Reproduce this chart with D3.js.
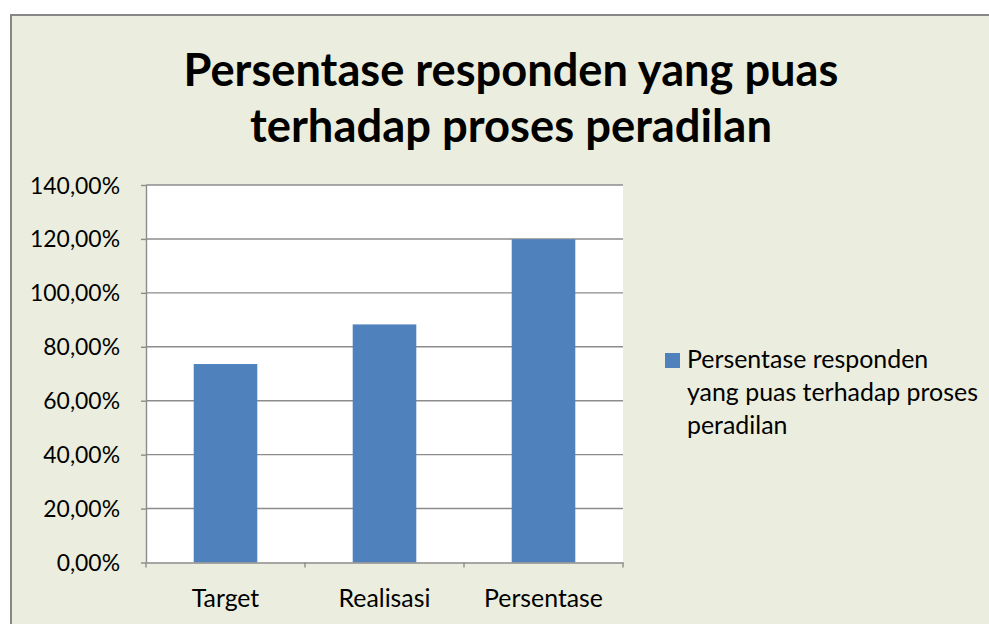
<!DOCTYPE html>
<html>
<head>
<meta charset="utf-8">
<script src="https://cdn.jsdelivr.net/npm/d3@7"></script>
<style>
  html, body { margin: 0; padding: 0; background: #ffffff; }
  svg { display: block; }
  text { font-family: Lato, "Open Sans", sans-serif; fill: #000; }
</style>
</head>
<body>
<svg id="chart" width="989" height="624"></svg>
<script>
// ---- data ----
const categories = ["Target", "Realisasi", "Persentase"];
const values = [73.6, 88.3, 119.9];
const yTicks = [0, 20, 40, 60, 80, 100, 120, 140];
const titleLines = ["Persentase responden yang puas", "terhadap proses peradilan"];
const seriesName = "Persentase responden yang puas terhadap proses peradilan";
const legendLines = ["Persentase responden", "yang puas terhadap proses", "peradilan"];

// ---- layout ----
const W = 989, H = 624;
const plot = { left: 146, right: 623, top: 185, bottom: 562.5 };
const barColor = "#4F81BD";
const gridColor = "#8C8C8C";

const svg = d3.select("#chart");

// chart area background with border
svg.append("rect").attr("x", 11).attr("y", 15).attr("width", W).attr("height", H)
  .attr("fill", "#EBEEDE").attr("stroke", "#878787").attr("stroke-width", 2);

const x = d3.scaleBand().domain(categories).range([plot.left, plot.right]).paddingInner(0.6).paddingOuter(0.3);
const xb = d3.scaleBand().domain(categories).range([plot.left, plot.right]);
const y = d3.scaleLinear().domain([0, 140]).range([plot.bottom, plot.top]);

// plot area
svg.append("rect").attr("x", plot.left).attr("y", plot.top)
  .attr("width", plot.right - plot.left).attr("height", plot.bottom - plot.top).attr("fill", "#fff");

// gridlines
svg.append("g").selectAll("line").data(yTicks.filter(d => d > 0)).join("line")
  .attr("x1", plot.left).attr("x2", plot.right)
  .attr("y1", d => y(d)).attr("y2", d => y(d))
  .attr("stroke", gridColor).attr("stroke-width", 1.4);

// bars
svg.append("g").selectAll("rect").data(values).join("rect")
  .attr("x", (d, i) => x(categories[i]))
  .attr("width", x.bandwidth())
  .attr("y", d => y(d))
  .attr("height", d => y(0) - y(d))
  .attr("fill", barColor);

function fitText(sel, targetWidth, baseSize) {
  sel.style("font-size", baseSize + "px");
  const w = sel.node().getComputedTextLength();
  sel.style("font-size", (baseSize * targetWidth / w).toFixed(2) + "px");
}

// y axis
const yAxis = d3.axisLeft(y).tickValues(yTicks).tickSize(5).tickSizeOuter(0)
  .tickFormat(d => d3.format(".2f")(d).replace(".", ",") + "%");
const gy = svg.append("g").attr("transform", `translate(${plot.left},0)`).call(yAxis);
gy.select(".domain").attr("stroke", gridColor).attr("stroke-width", 1.4);
gy.selectAll(".tick line").attr("stroke", gridColor).attr("stroke-width", 1.4);
gy.selectAll(".tick text").attr("x", -26).attr("dy", "0.35em")
  .style("font-family", "Lato, sans-serif").attr("fill", "#000");
let ySize = 20;
{
  const t = gy.selectAll(".tick text").filter(d => d === 140);
  t.style("font-size", "20px");
  ySize = 20 * 90 / t.node().getComputedTextLength();
}
gy.selectAll(".tick text").style("font-size", ySize + "px");

// x axis
const xAxis = d3.axisBottom(xb).tickSize(0).tickSizeOuter(0);
const gx = svg.append("g").attr("transform", `translate(0,${plot.bottom})`).call(xAxis);
gx.select(".domain").attr("stroke", gridColor).attr("stroke-width", 1.4);
gx.selectAll(".tick text").attr("y", 0).attr("dy", null).attr("transform", "translate(0,44)")
  .style("font-family", "Lato, sans-serif").attr("fill", "#000");
const xTickPos = [plot.left].concat(categories.map(c => xb(c) + xb.bandwidth()));
gx.append("g").selectAll("line").data(xTickPos).join("line")
  .attr("x1", d => d).attr("x2", d => d).attr("y1", 0).attr("y2", 5)
  .attr("stroke", gridColor).attr("stroke-width", 1.4);
{
  const t = gx.selectAll(".tick text").filter(d => d === "Persentase");
  t.style("font-size", "20px");
  const s = 20 * 119 / t.node().getComputedTextLength();
  gx.selectAll(".tick text").style("font-size", s + "px");
}

// title
const titleY = [86, 142];
const titleWidths = [655, 522];
titleLines.forEach((line, i) => {
  const t = svg.append("text").attr("x", 511).attr("y", titleY[i])
    .attr("text-anchor", "middle").style("font-weight", "bold").text(line);
  fitText(t, titleWidths[i], 36);
});

// legend
const lg = svg.append("g").attr("class", "legend");
lg.append("rect").attr("x", 665).attr("y", 353).attr("width", 15).attr("height", 15).attr("fill", barColor)
  .append("title").text(seriesName);
const legendBase = [368, 401, 434];
let legendSize = 20;
legendLines.forEach((line, i) => {
  const t = lg.append("text").attr("x", 687).attr("y", legendBase[i]).text(line);
  if (i === 1) {
    t.style("font-size", "20px");
    legendSize = 20 * 291 / t.node().getComputedTextLength();
  }
});
lg.selectAll("text").style("font-size", legendSize + "px");
</script>
</body>
</html>
